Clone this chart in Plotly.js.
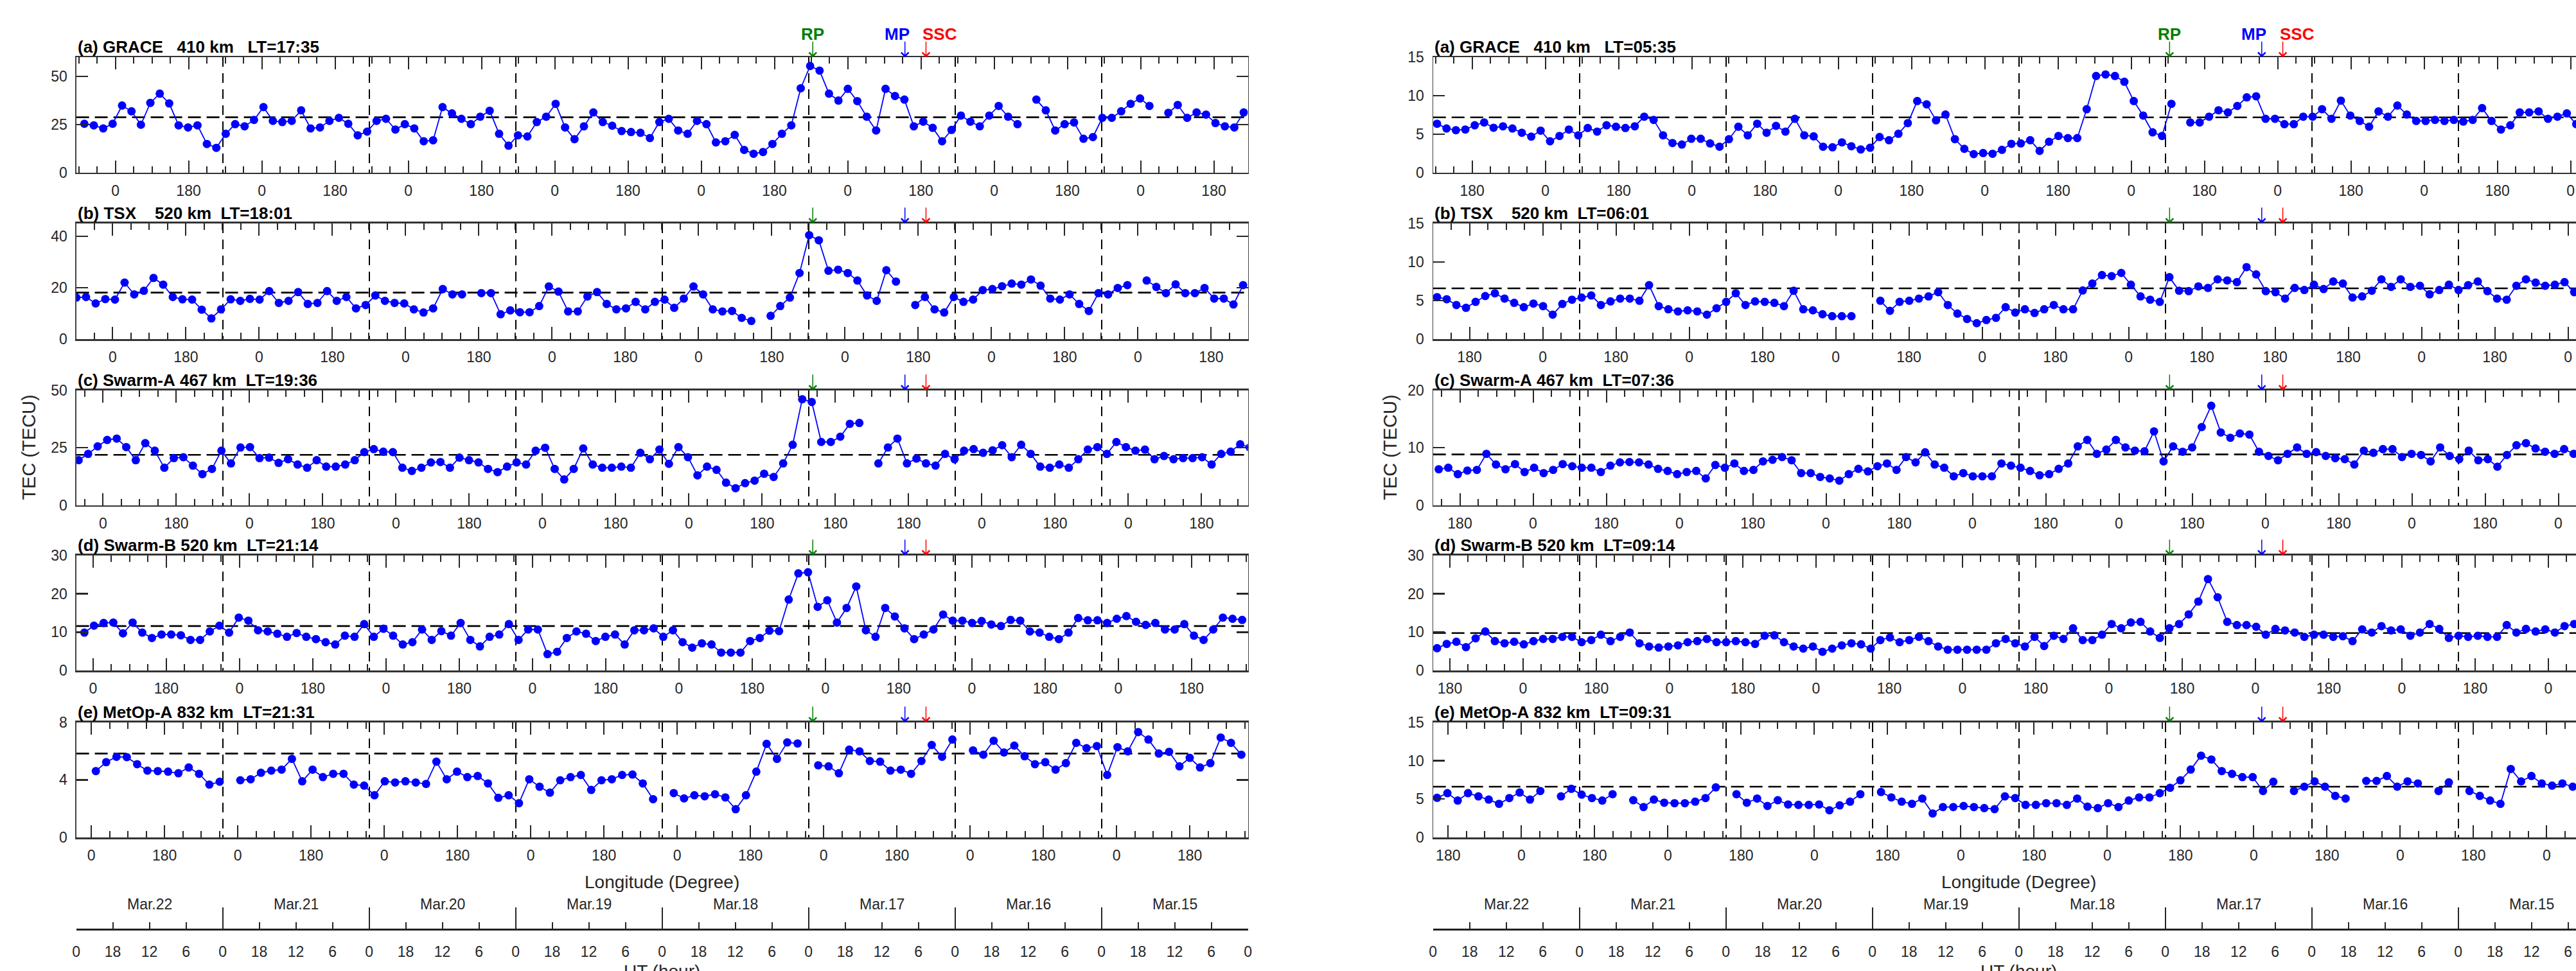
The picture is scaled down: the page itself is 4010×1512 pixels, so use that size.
<!DOCTYPE html>
<html><head><meta charset="utf-8">
<script src="https://cdn.plot.ly/plotly-3.0.1.min.js"></script>
<style>html,body{margin:0;padding:0;overflow:hidden;background:#fff;width:4010px;height:1512px}#chart{width:4070px;height:1512px}</style>
</head><body><div id="chart"></div>
<script>
// ---------------- DATA ----------------
const titlesDusk = ["(a) GRACE   410 km   LT=17:35", "(b) TSX    520 km  LT=18:01", "(c) Swarm-A 467 km  LT=19:36", "(d) Swarm-B 520 km  LT=21:14", "(e) MetOp-A 832 km  LT=21:31"];
const titlesDawn = ["(a) GRACE   410 km   LT=05:35", "(b) TSX    520 km  LT=06:01", "(c) Swarm-A 467 km  LT=07:36", "(d) Swarm-B 520 km  LT=09:14", "(e) MetOp-A 832 km  LT=09:31"];
const localTimeDusk = [17.583, 18.017, 19.6, 21.233, 21.517];
const localTimeDawn = [5.583, 6.017, 7.6, 9.233, 9.517];
// time of first orbit pass (hours after 15 Mar 00 UT) and orbit spacing (hours)
const firstPassDusk = [190.66, 191.97, 191.60, 190.66, 188.78];
const orbitStepDusk = [1.5445, 1.580, 1.5601, 1.581, 1.691];
const firstPassDawn = [191.33, 191.33, 191.06, 191.33, 191.33];
const orbitStepDawn = [1.5427, 1.579, 1.5628, 1.579, 1.6917];
const meanDusk = [28.8, 18.1, 21.9, 11.6, 5.83];
const meanDawn = [7.19, 6.59, 8.83, 9.79, 6.61];
const yMaxDusk = [60, 45, 50, 30, 8];
const yMaxDawn = [15, 15, 20, 30, 15];
const yTicksDusk = [[0,25,50],[0,20,40],[0,25,50],[0,10,20,30],[0,4,8]];
const yTicksDawn = [[0,5,10,15],[0,5,10,15],[0,10,20],[0,10,20,30],[0,5,10,15]];
const eventNames = ["RP", "MP", "SSC"];
const eventTimes = [71.3, 56.2, 52.75];
const eventColors = ["#008000", "#0000ff", "#ff0000"];
const dayLabels = ["Mar.22","Mar.21","Mar.20","Mar.19","Mar.18","Mar.17","Mar.16","Mar.15"];
const dayNumbers = [22,21,20,19,18,17,16,15];

const graceDusk = [25.4,24.6,23.0,25.4,34.9,31.9,24.9,36.3,41.1,36.0,
 24.6,23.5,24.6,14.9,12.9,20.2,25.2,24.1,27.4,34.1,
 26.9,26.3,26.9,32.4,23.0,23.5,26.9,28.5,25.4,19.4,
 21.3,26.9,28.0,22.4,25.2,23.0,16.3,16.8,34.1,30.8,
 28.0,25.2,29.1,32.2,20.2,14.0,19.4,18.8,26.3,29.1,
 35.8,23.5,17.4,24.1,31.3,26.3,24.4,21.6,21.1,20.7,
 18.0,26.3,28.0,21.9,20.2,26.9,25.2,15.7,16.3,19.6,
 11.8,9.8,10.7,14.9,20.2,24.6,43.9,55.5,53.1,41.1,
 37.5,43.6,37.2,29.1,21.9,43.6,39.9,38.0,24.1,26.5,
 23.3,16.3,22.2,29.7,26.5,24.1,29.7,34.7,29.1,25.2,
 null,38.0,32.4,21.9,25.2,26.1,17.6,18.5,28.5,28.5,
 31.9,35.8,38.6,34.7,null,31.1,35.2,28.5,31.3,30.2,
 25.8,24.1,23.5,31.3];
const tsxDusk = [16.2,
 16.4,13.9,15.6,15.4,22.0,17.4,18.8,23.8,21.2,16.4,
 15.5,15.4,11.5,8.1,11.6,15.5,14.9,15.7,15.4,18.7,
 14.1,14.9,18.3,13.7,14.1,18.7,14.9,16.4,12.0,13.3,
 17.0,14.9,14.1,13.9,11.6,10.4,12.0,19.5,17.4,17.4,
 null,17.9,17.9,9.7,11.2,10.5,10.5,12.9,20.5,18.5,
 10.8,10.8,16.6,18.3,13.7,11.6,12.0,14.5,11.6,14.5,
 15.4,12.2,15.8,20.5,17.4,11.6,10.8,11.0,8.3,7.1,
 null,9.1,12.9,16.2,25.7,40.4,38.4,26.6,27.0,25.7,
 22.8,17.0,14.9,26.8,22.4,null,13.3,16.4,11.6,10.4,
 16.4,14.5,15.4,19.1,19.5,20.6,21.6,21.2,23.2,20.8,
 15.8,15.4,17.4,13.7,11.0,17.9,17.4,19.9,21.0,null,
 22.8,20.3,17.9,21.3,17.9,17.9,19.9,15.8,15.8,13.5,
 21.0];
const swarmADusk = [19.6,22.3,25.6,28.4,29.0,25.3,19.6,27.0,23.7,16.3,
 20.5,20.9,17.2,13.5,15.8,23.7,18.2,25.1,25.3,20.5,
 20.7,18.4,20.0,17.7,16.3,19.6,16.8,16.8,17.7,19.6,
 23.1,24.4,23.3,23.1,16.3,14.9,16.3,18.6,18.8,16.3,
 20.7,19.6,18.6,15.8,14.4,16.8,18.6,17.7,23.7,25.0,
 15.8,11.2,15.8,24.7,17.7,16.3,16.3,16.8,16.3,22.8,
 20.0,24.2,18.0,25.3,20.9,13.0,16.8,15.4,9.8,7.4,
 9.6,10.7,13.7,12.3,18.2,26.3,46.1,44.9,27.5,27.5,
 29.8,35.4,35.8,null,18.2,25.1,29.0,18.2,20.3,18.2,
 17.2,22.3,20.0,23.7,24.4,22.8,23.9,26.1,20.9,26.3,
 22.3,16.8,16.3,17.7,16.3,20.0,24.2,25.3,22.3,27.5,
 25.3,23.7,24.2,20.0,21.4,20.0,20.5,20.5,20.9,17.7,
 22.3,23.3,26.5,25.1];
const swarmBDusk = [9.9,11.7,12.4,12.5,9.7,12.5,9.9,8.5,9.4,9.4,
 9.2,8.0,8.0,10.2,11.7,9.9,13.8,13.0,10.5,10.2,
 9.6,8.8,9.8,8.8,8.2,7.4,6.8,9.1,8.8,12.1,
 8.8,10.9,9.1,6.8,7.4,10.7,8.0,10.3,9.1,12.4,
 8.0,6.3,8.8,9.4,12.1,8.0,10.7,10.7,4.3,4.9,
 8.5,10.2,9.6,7.7,8.8,9.4,6.8,10.5,10.5,11.0,
 8.8,10.5,7.4,6.0,7.1,6.8,4.7,4.7,4.7,7.7,
 8.5,10.4,10.3,18.5,25.3,25.6,16.6,18.3,12.5,16.3,
 21.9,10.5,8.8,16.3,14.1,11.0,8.2,9.4,10.7,14.6,
 13.0,13.0,12.4,12.9,12.0,11.6,13.2,13.0,10.2,9.9,
 8.8,8.2,9.9,13.7,13.1,13.1,12.4,13.5,14.2,12.7,
 11.9,12.4,10.7,10.7,12.1,9.1,8.0,10.7,13.8,13.5,
 13.2];
const metopDusk = [4.61,5.23,5.60,5.58,5.09,4.64,4.61,4.57,4.46,4.86,
 4.42,3.67,3.87,null,3.97,4.04,4.49,4.64,4.71,5.46,
 3.90,4.71,4.19,4.42,4.42,3.67,3.60,2.93,3.90,3.82,
 3.90,3.82,3.72,5.26,4.04,4.57,4.19,4.27,3.75,2.75,
 2.93,2.38,4.04,3.52,3.11,3.97,4.19,4.34,3.30,3.97,
 4.04,4.34,4.37,3.75,2.66,null,3.08,2.71,2.93,2.86,
 3.00,2.78,1.96,2.93,4.57,6.50,5.46,6.60,6.53,null,
 5.01,4.94,4.46,6.10,5.98,5.31,5.26,4.64,4.71,4.42,
 5.31,6.42,5.60,6.80,null,6.05,5.75,6.72,5.90,6.38,
 5.64,5.09,5.23,4.71,5.16,6.57,6.20,6.35,4.34,6.27,
 5.98,7.32,6.80,5.83,5.95,4.94,5.53,4.86,5.16,6.94,
 6.57,5.75];
const graceDawn = [6.36,5.74,5.52,5.60,6.16,6.52,5.83,6.02,5.74,5.19,
 4.68,5.46,4.07,4.77,5.60,4.85,5.80,5.33,6.16,5.97,
 5.80,6.02,7.28,6.86,4.85,3.85,3.65,4.40,4.40,3.79,
 3.37,4.35,5.97,4.85,6.36,5.19,6.08,5.33,7.00,4.85,
 4.71,3.37,3.29,3.93,3.43,3.01,3.23,4.63,4.21,5.05,
 6.44,9.31,8.89,6.80,7.56,4.35,3.09,2.40,2.54,2.45,
 2.96,3.74,3.79,4.21,2.82,4.01,4.77,4.49,4.49,8.25,
 12.57,12.77,12.57,11.82,9.31,7.42,5.24,4.77,8.95,null,
 6.52,6.52,7.28,8.11,7.83,8.67,9.79,9.93,7.00,7.00,
 6.30,6.30,7.28,7.28,8.25,7.00,9.37,7.42,6.72,5.97,
 7.97,7.28,8.73,7.56,6.72,6.72,6.86,6.72,6.86,6.64,
 6.86,8.39,6.72,5.60,6.16,7.83,7.83,7.97,7.00,7.28,
 7.70,6.30];
const tsxDawn = [5.45,5.18,4.43,4.07,4.84,5.59,5.95,5.26,4.71,4.15,
 4.62,4.29,3.18,4.57,5.12,5.40,5.67,4.43,4.90,5.26,
 5.26,4.98,7.00,4.29,3.88,3.60,3.74,3.60,3.18,4.01,
 4.84,5.95,4.43,4.90,4.84,4.71,4.29,6.28,3.88,3.74,
 3.24,2.99,2.99,2.99,null,null,4.98,3.68,4.84,4.98,
 5.26,5.54,6.09,4.43,3.32,2.63,2.08,2.49,2.77,4.15,
 3.46,3.88,3.40,3.88,4.43,3.88,3.88,6.31,7.20,8.30,
 8.17,8.58,7.06,5.54,5.12,4.84,8.03,6.28,6.23,6.84,
 6.64,7.75,7.61,7.39,9.33,8.39,6.23,6.09,5.26,6.64,
 6.37,7.06,6.50,7.47,7.20,5.40,5.54,6.28,7.75,6.78,
 7.75,6.78,6.92,5.81,6.37,7.06,6.37,7.00,7.47,6.23,
 5.26,5.12,6.92,7.75,7.33,6.92,7.06,7.39,6.09];
const swarmADawn = [6.26,6.52,5.40,6.03,6.15,8.94,7.08,6.26,7.15,5.77,
 6.52,5.59,6.15,7.15,6.78,6.52,6.52,5.77,6.89,7.45,
 7.52,7.45,7.08,6.33,5.96,5.40,5.77,5.96,4.66,7.00,
 6.52,7.26,5.96,6.15,7.63,7.90,8.38,7.82,5.59,5.59,
 4.92,4.66,4.28,5.40,6.33,5.88,6.78,7.26,6.15,8.38,
 7.45,9.20,7.08,6.52,5.03,5.59,5.03,5.03,5.03,7.26,
 6.89,6.52,5.96,5.21,5.40,6.33,7.26,10.24,11.36,8.94,
 9.68,11.36,10.06,9.50,9.38,12.85,7.63,10.24,9.31,10.06,
 13.60,17.30,12.66,11.73,12.48,12.29,9.31,8.57,7.82,8.94,
 10.06,8.94,9.24,8.57,8.19,8.01,7.08,9.50,9.12,9.76,
 9.76,8.38,8.94,8.75,7.63,10.06,8.57,8.01,9.50,7.82,
 8.01,6.70,8.75,10.43,10.80,9.87,9.31,8.94,9.76,8.94];
const swarmBDawn = [5.84,6.96,7.51,6.12,8.40,10.19,7.68,7.12,7.51,6.85,
 7.68,8.24,8.24,8.79,8.79,7.40,7.96,9.35,7.68,8.79,
 9.91,7.12,6.29,6.01,6.29,6.57,7.40,7.68,8.24,7.40,
 7.40,7.68,7.40,6.96,9.07,9.18,7.40,6.29,5.73,6.29,
 4.90,5.73,6.57,7.12,6.85,5.73,7.96,8.63,7.40,7.96,
 8.79,7.68,6.29,5.45,5.45,5.45,5.45,5.45,7.12,8.24,
 7.12,6.29,8.79,6.40,9.07,8.24,11.02,7.96,7.96,9.35,
 12.13,11.02,12.52,12.69,10.19,8.52,11.02,12.13,14.64,17.98,
 23.82,19.09,12.69,11.86,11.86,11.41,9.35,10.85,10.46,9.91,
 8.79,9.35,9.35,8.79,8.96,7.68,10.74,9.91,11.58,10.46,
 10.74,9.07,9.91,12.13,10.85,8.52,9.07,8.79,9.07,8.79,
 8.79,11.86,9.91,10.85,10.19,10.74,9.91,11.58,12.13];
const metopDawn = [5.16,5.77,4.80,5.77,5.35,4.93,4.38,5.13,5.85,4.93,
 6.05,null,5.35,6.33,5.58,5.13,4.80,5.63,null,4.85,
 3.96,4.93,4.52,4.46,4.46,4.66,5.13,6.52,null,5.63,
 4.52,5.07,4.10,4.85,4.29,4.24,4.24,4.29,3.54,4.18,
 4.66,5.63,null,5.91,5.21,4.66,4.38,5.07,3.12,3.96,
 3.96,4.10,3.96,3.82,3.68,5.35,5.13,4.24,4.24,4.46,
 4.46,4.24,5.07,4.01,3.82,4.46,3.96,4.80,5.21,5.21,
 5.77,6.47,7.44,8.84,10.65,10.15,8.64,8.28,7.86,7.86,
 6.05,7.25,null,6.05,6.61,7.30,6.61,5.41,5.07,null,
 7.36,7.36,8.00,6.61,7.30,7.03,null,6.05,7.17,null,
 6.05,5.41,4.80,4.38,8.92,7.30,8.00,7.03,6.75,7.03,
 6.61];

// ---------------- LAYOUT ----------------
const PW = 4070, PH = 1512;
const fx = p => p / PW;
const fy = p => 1 - p / PH;
const FONT = 'Liberation Sans, Arial, Helvetica, sans-serif';
const INK = '#262626';
const T_MAX = 192;
const colWidth = 1824;
const rowTop = [89.3, 347.7, 607.7, 864.7, 1124.7];
const rowBottom = [268.7, 528.3, 786.7, 1044.3, 1304];

const columns = [
  {left: 118.6, ylabelOffset: 74, titles: titlesDusk, lt: localTimeDusk, series: [graceDusk, tsxDusk, swarmADusk, swarmBDusk, metopDusk],
   t0: firstPassDusk, dt: orbitStepDusk, mean: meanDusk, ymax: yMaxDusk, yticks: yTicksDusk},
  {left: 2230.7, ylabelOffset: 67, titles: titlesDawn, lt: localTimeDawn, series: [graceDawn, tsxDawn, swarmADawn, swarmBDawn, metopDawn],
   t0: firstPassDawn, dt: orbitStepDawn, mean: meanDawn, ymax: yMaxDawn, yticks: yTicksDawn}
];

const ref = (l, n) => n === 1 ? l : l + n;
const key = (l, n) => n === 1 ? l + 'axis' : l + 'axis' + n;

const dayInner = [], dayAll = [], sixHours = [], sixText = [];
for (let t = 0; t <= T_MAX; t += 24) { dayAll.push(t); if (t > 0 && t < T_MAX) dayInner.push(t); }
for (let t = 0; t <= T_MAX; t += 6) { sixHours.push(t); sixText.push(String(t % 24)); }

function lonTicks(lt) {
  const vals = [], text = [];
  for (let t = lt % 12; t <= T_MAX; t += 12) {
    vals.push(t);
    const d = Math.round((((t - lt) % 24) + 24) % 24);
    text.push(d === 0 ? '0' : '180');
  }
  return {vals, text};
}

const data = [];
const layout = {
  width: PW, height: PH, margin: {l: 0, r: 0, t: 0, b: 0},
  paper_bgcolor: '#ffffff', plot_bgcolor: 'rgba(0,0,0,0)', showlegend: false,
  font: {family: FONT, color: INK, size: 23}, annotations: []
};
const nb = s => s.replace(/ /g, '\u00a0');

columns.forEach((col, c) => {
  const L = col.left, R = col.left + colWidth;
  col.series.forEach((vals, r) => {
    const n = c * 5 + r + 1, lonN = 10 + n;
    const times = vals.map((v, i) => col.t0[r] - i * col.dt[r]);
    data.push({type: 'scatter', mode: 'lines', x: [T_MAX, 0], y: [col.mean[r], col.mean[r]],
      xaxis: ref('x', n), yaxis: ref('y', n), line: {color: '#000000', width: 2.6, dash: '20px,9px'}, hoverinfo: 'skip'});
    data.push({type: 'scatter', mode: 'lines+markers', x: times, y: vals, xaxis: ref('x', n), yaxis: ref('y', n),
      line: {color: '#0000ff', width: 1.8}, marker: {color: '#0000ff', size: 13}, connectgaps: false, hoverinfo: 'skip'});
    data.push({type: 'scatter', mode: 'markers', x: [null], y: [null], xaxis: ref('x', lonN), yaxis: ref('y', n), hoverinfo: 'skip'});

    layout[key('x', n)] = {
      domain: [fx(L), fx(R)], range: [T_MAX, 0], anchor: ref('y', n),
      showline: true, linecolor: '#333333', linewidth: 2.6, mirror: true,
      ticks: '', showticklabels: false, tickmode: 'array', tickvals: dayInner,
      showgrid: true, gridcolor: '#000000', gridwidth: 2, griddash: '15px,10px', zeroline: false
    };
    const lt = lonTicks(col.lt[r]);
    layout[key('x', lonN)] = {
      overlaying: ref('x', n), anchor: ref('y', n), side: 'bottom', range: [T_MAX, 0],
      tickmode: 'array', tickvals: lt.vals, ticktext: lt.text,
      ticks: 'inside', ticklen: 19, tickwidth: 2, tickcolor: INK, mirror: 'ticks',
      showline: false, showgrid: false, zeroline: false,
      tickfont: {family: FONT, size: 23, color: INK}, ticklabelstandoff: 12,
      minor: {tickmode: 'linear', tick0: col.lt[r], dtick: 3, ticks: 'inside', ticklen: 10, tickwidth: 2, tickcolor: INK, showgrid: false}
    };
    layout[key('y', n)] = {
      domain: [fy(rowBottom[r]), fy(rowTop[r])], range: [0, col.ymax[r]], anchor: ref('x', n),
      tickmode: 'array', tickvals: col.yticks[r], ticks: 'inside', ticklen: 18, tickwidth: 2.5, tickcolor: INK,
      mirror: 'ticks', showline: true, linecolor: '#444444', linewidth: 1.2,
      showgrid: false, zeroline: false, tickfont: {family: FONT, size: 23, color: INK}, ticklabelstandoff: 8
    };
    // panel title
    layout.annotations.push({xref: 'paper', yref: 'paper', x: fx(L), y: fy(rowTop[r] - 16), xanchor: 'left', yanchor: 'middle',
      text: '<b>' + nb(col.titles[r]) + '</b>', showarrow: false, font: {family: FONT, size: 26, color: '#000000'}});
    // event arrows
    eventTimes.forEach((et, e) => {
      layout.annotations.push({xref: ref('x', n), yref: ref('y', n) + ' domain', x: et, y: 1, ax: 0, ay: -26,
        showarrow: true, arrowhead: 4, arrowsize: 1.5, arrowwidth: 1.5, arrowcolor: eventColors[e], text: ''});
    });
  });
  // event labels above top panel
  const shifts = [0, -12, 22];
  eventNames.forEach((nm, e) => {
    layout.annotations.push({xref: ref('x', c * 5 + 1), yref: 'paper', x: eventTimes[e], xshift: shifts[e], y: fy(52.7),
      xanchor: 'center', yanchor: 'middle', showarrow: false, text: '<b>' + nm + '</b>',
      font: {family: FONT, size: 26, color: eventColors[e]}});
  });
  // UT axis
  const xu = 21 + 2 * c, xd = 22 + 2 * c, yu = 11 + c;
  data.push({type: 'scatter', mode: 'markers', x: [null], y: [null], xaxis: ref('x', xu), yaxis: ref('y', yu), hoverinfo: 'skip'});
  data.push({type: 'scatter', mode: 'markers', x: [null], y: [null], xaxis: ref('x', xd), yaxis: ref('y', yu), hoverinfo: 'skip'});
  layout[key('y', yu)] = {domain: [fy(1446), fy(1413)], range: [0, 1], anchor: ref('x', xu), visible: false, showgrid: false, zeroline: false};
  layout[key('x', xu)] = {
    domain: [fx(L), fx(R)], range: [T_MAX, 0], anchor: ref('y', yu), side: 'bottom',
    tickmode: 'array', tickvals: sixHours, ticktext: sixText, ticks: 'inside', ticklen: 10, tickwidth: 2, tickcolor: INK,
    showline: true, linecolor: '#222222', linewidth: 3, showgrid: false, zeroline: false,
    tickfont: {family: FONT, size: 23, color: INK}, ticklabelstandoff: 13
  };
  layout[key('x', xd)] = {
    overlaying: ref('x', xu), anchor: ref('y', yu), side: 'bottom', range: [T_MAX, 0],
    tickmode: 'array', tickvals: dayAll, ticks: 'inside', ticklen: 33, tickwidth: 2, tickcolor: INK,
    showticklabels: false, showline: false, showgrid: false, zeroline: false
  };
  dayNumbers.forEach((d, i) => {
    layout.annotations.push({xref: ref('x', xu), yref: 'paper', x: (d - 15) * 24 + 12, y: fy(1408), xanchor: 'center', yanchor: 'middle',
      showarrow: false, text: dayLabels[i], font: {family: FONT, size: 23, color: INK}});
  });
  const mid = L + colWidth / 2;
  layout.annotations.push({xref: 'paper', yref: 'paper', x: fx(mid), y: fy(1373), xanchor: 'center', yanchor: 'middle',
    showarrow: false, text: 'Longitude (Degree)', font: {family: FONT, size: 28, color: INK}});
  layout.annotations.push({xref: 'paper', yref: 'paper', x: fx(mid), y: fy(1513), xanchor: 'center', yanchor: 'middle',
    showarrow: false, text: 'UT (hour)', font: {family: FONT, size: 28, color: INK}});
  layout.annotations.push({xref: 'paper', yref: 'paper', x: fx(L - col.ylabelOffset), y: fy(697), xanchor: 'center', yanchor: 'middle',
    showarrow: false, text: 'TEC (TECU)', textangle: -90, font: {family: FONT, size: 29, color: INK}});
});

Plotly.newPlot('chart', data, layout, {staticPlot: true, displayModeBar: false});
</script></body></html>
